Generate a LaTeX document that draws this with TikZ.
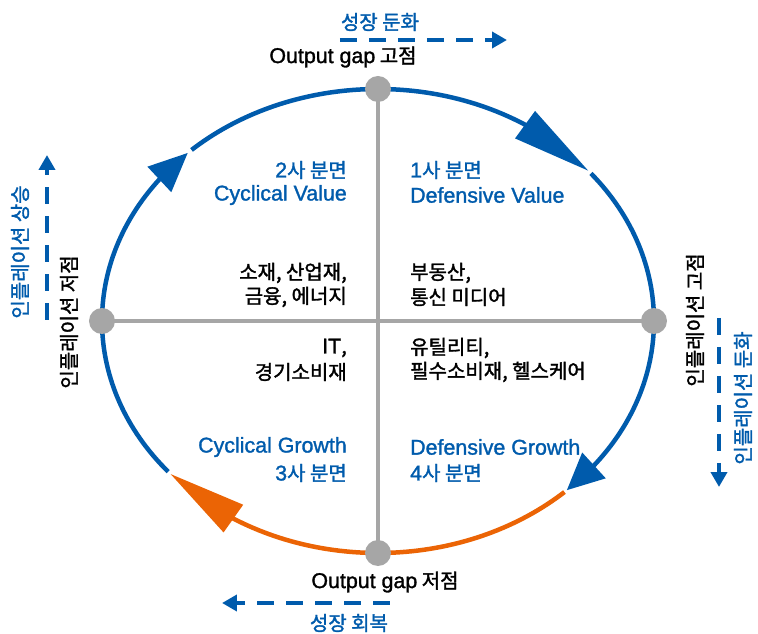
\documentclass[tikz,border=0pt]{standalone}
\usepackage{fontspec}
\setmainfont{Noto Sans CJK KR}[FakeBold=1.6]
\newfontfamily\latn{Liberation Sans}[FakeBold=1.4, Scale=1.07]
\usetikzlibrary{calc,arrows.meta}
\definecolor{cycblue}{HTML}{005BAC}
\definecolor{cycorange}{HTML}{EB6405}
\definecolor{axisgray}{HTML}{A6A6A6}

\begin{document}
\begin{tikzpicture}[x=1pt,y=1pt,
  ring/.style={line width=4.5pt, draw=cycblue},
  ringhot/.style={line width=4.5pt, draw=cycorange},
  axisline/.style={line width=3.5pt, draw=axisgray},
  dot/.style={circle, fill=axisgray, minimum size=26pt, inner sep=0pt},
  trend/.style={line width=4pt, draw=cycblue, dash pattern=on 17pt off 12pt,
    -{Triangle[length=15pt,width=16pt]}},
  lbl/.style={font=\fontsize{20}{24}\selectfont, inner sep=0pt, text=black},
  bluelbl/.style={lbl, text=cycblue},
  ellarc/.style={x radius=276, y radius=232},
]
\useasboundingbox (-378,-313) rectangle (380,321);

% points on the cycle ellipse (parametric angle)
\foreach \nm/\t in {bA/220.5, bB/132.5, bC/39.5, oA/312.5,
                    tlT/133.6, tlB/142.4, trT/40.4, trB/57.8,
                    brT/313.2, brB/321.5, blT/221.3, blB/238.4}
  \coordinate (\nm) at ({276*cos(\t)},{232*sin(\t)});

% cycle arcs
\draw[ring] (bA) arc[start angle=220.5, end angle=141, ellarc];
\draw[ring] (bB) arc[start angle=132.5, end angle=56, ellarc];
\draw[ring] (bC) arc[start angle=39.5, end angle=-40, ellarc];
\draw[ringhot] (oA) arc[start angle=312.5, end angle=237, ellarc];

% arrowheads along the cycle
\fill[cycblue] (tlT) -- ($(tlB)!17.5pt!90:(tlT)$) -- ($(tlB)!17.5pt!-90:(tlT)$) -- cycle;
\fill[cycblue] (trT) -- ($(trB)!17pt!90:(trT)$) -- ($(trB)!17pt!-90:(trT)$) -- cycle;
\fill[cycblue] (brT) -- ($(brB)!17.5pt!90:(brT)$) -- ($(brB)!17.5pt!-90:(brT)$) -- cycle;
\fill[cycorange] (blT) -- ($(blB)!17pt!90:(blT)$) -- ($(blB)!17pt!-90:(blT)$) -- cycle;

% axes and turning points
\coordinate (cT) at (0,232);
\coordinate (cB) at (0,-232);
\coordinate (cL) at (-276,0);
\coordinate (cR) at (276,0);
\draw[axisline] (cT) -- (cB);
\draw[axisline] (cL) -- (cR);
\node[dot] (dotT) at (cT) {};
\node[dot] (dotB) at (cB) {};
\node[dot] (dotL) at (cL) {};
\node[dot] (dotR) at (cR) {};

% trend arrows
\coordinate (gS) at (-38,281);   \coordinate (gE) at (129,281);
\coordinate (rS) at (12,-282);   \coordinate (rE) at (-156,-282);
\coordinate (iS) at (-331,1);    \coordinate (iE) at (-331,166);
\coordinate (dS) at (341,3);     \coordinate (dE) at (341,-166);
\draw[trend] (gS) -- (gE);
\draw[trend] (rS) -- (rE);
\draw[trend] (iS) -- (iE);
\draw[trend] (dS) -- (dE);

% outer labels
\node[bluelbl] (slow) at (2,299) {성장 둔화};
\node[lbl] (peak) at (-35,264) {{\latn Output gap} 고점};
\node[lbl] (trough) at (7,-261) {{\latn Output gap} 저점};
\node[bluelbl] (recov) at (-29,-302) {성장 회복};
\node[bluelbl, rotate=90] (infup) at (-358,69) {인플레이션 상승};
\node[lbl, rotate=90] (inflow) at (-309,-1) {인플레이션 저점};
\node[lbl, rotate=90] (infhigh) at (317,1) {인플레이션 고점};
\node[bluelbl, rotate=90] (infdown) at (365,-77) {인플레이션 둔화};

% quadrant labels
\node[bluelbl, anchor=east] (q2a) at (-31,151) {{\latn 2}사 분면};
\node[bluelbl, anchor=east] (q2b) at (-31,126) {\latn Cyclical Value};
\node[bluelbl, anchor=west] (q1a) at (32,151) {{\latn 1}사 분면};
\node[bluelbl, anchor=west] (q1b) at (32,126) {\latn Defensive Value};
\node[lbl, anchor=east] (s2a) at (-31,48) {소재, 산업재,};
\node[lbl, anchor=east] (s2b) at (-31,24) {금융, 에너지};
\node[lbl, anchor=west] (s1a) at (32,48) {부동산,};
\node[lbl, anchor=west] (s1b) at (32,24) {통신 미디어};
\node[lbl, anchor=east] (s3a) at (-31,-27) {{\latn IT},};
\node[lbl, anchor=east] (s3b) at (-31,-51) {경기소비재};
\node[lbl, anchor=west] (s4a) at (32,-27) {유틸리티,};
\node[lbl, anchor=west] (s4b) at (32,-51) {필수소비재, 헬스케어};
\node[bluelbl, anchor=east] (q3a) at (-31,-126) {\latn Cyclical Growth};
\node[bluelbl, anchor=east] (q3b) at (-31,-152) {{\latn 3}사 분면};
\node[bluelbl, anchor=west] (q4a) at (32,-126) {\latn Defensive Growth};
\node[bluelbl, anchor=west] (q4b) at (32,-152) {{\latn 4}사 분면};
\end{tikzpicture}
\end{document}
